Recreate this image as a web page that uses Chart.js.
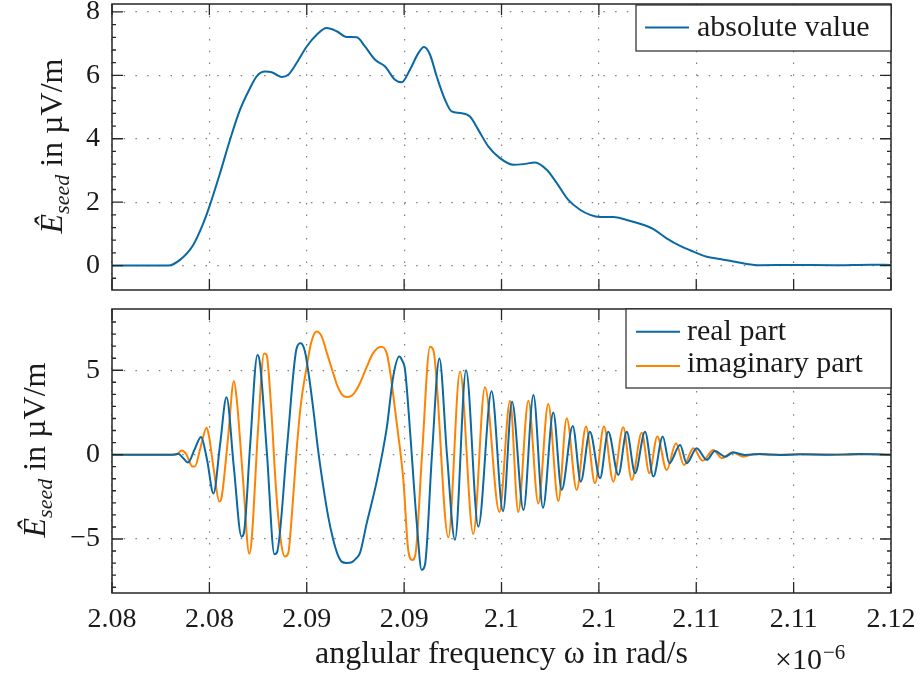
<!DOCTYPE html>
<html><head><meta charset="utf-8">
<script src="https://cdn.jsdelivr.net/npm/chart.js@4"></script>
<style>
html,body{margin:0;padding:0;background:#fff;}
#wrap{position:relative;width:920px;height:677px;background:#fff;}
canvas{position:absolute;left:0;}
#c1{top:0}
#c2{top:300px}
</style></head><body>
<div id="wrap"><canvas id="c1" width="920" height="300"></canvas><canvas id="c2" width="920" height="377"></canvas></div>
<script>
// ---------- data (x in units of 1e-6 rad/s) ----------
const xTickValues = [2.080, 2.085, 2.090, 2.095, 2.100, 2.105, 2.110, 2.115, 2.120];
const xTickLabels = ['2.08', '2.08', '2.09', '2.09', '2.1', '2.1', '2.11', '2.11', '2.12'];
const absTicks = [0, 2, 4, 6, 8];
const partTicks = [-5, 0, 5];

const absX = [2.08, 2.08289, 2.08349, 2.08417, 2.08469, 2.08500, 2.08555, 2.08606, 2.08657, 2.08709, 2.08743, 2.08786, 2.08820, 2.08871, 2.08905, 2.08948, 2.09000, 2.09051, 2.09102, 2.09154, 2.09205, 2.09257, 2.09299, 2.09351, 2.09402, 2.09453, 2.09488, 2.09530, 2.09573, 2.09602, 2.09633, 2.09667, 2.09710, 2.09744, 2.09787, 2.09838, 2.09881, 2.09932, 2.09992, 2.10061, 2.10112, 2.10172, 2.10232, 2.10284, 2.10343, 2.10403, 2.10455, 2.10506, 2.10574, 2.10643, 2.10711, 2.10780, 2.10848, 2.10917, 2.10985, 2.11054, 2.11122, 2.11190, 2.11259, 2.11328, 2.1150, 2.1170, 2.1190, 2.12];
const absY = [0, 0, 0.18, 0.65, 1.34, 1.86, 2.92, 3.97, 4.91, 5.6, 5.97, 6.12, 6.10, 5.95, 6.02, 6.39, 6.91, 7.28, 7.49, 7.39, 7.21, 7.20, 6.91, 6.49, 6.28, 5.86, 5.78, 6.18, 6.70, 6.89, 6.65, 5.97, 5.23, 4.86, 4.81, 4.70, 4.28, 3.76, 3.39, 3.18, 3.20, 3.25, 3.02, 2.60, 2.07, 1.76, 1.60, 1.53, 1.53, 1.44, 1.32, 1.15, 0.86, 0.62, 0.44, 0.28, 0.21, 0.13, 0.05, 0.01, 0.02, 0.01, 0.03, 0.02];

const realX = [2.08, 2.08313, 2.08340, 2.08365, 2.08390, 2.08424, 2.08457, 2.08488, 2.08521, 2.08555, 2.08588, 2.08626, 2.08665, 2.08678, 2.08709, 2.08747, 2.08760, 2.08796, 2.08834, 2.08847, 2.08899, 2.08948, 2.08969, 2.08991, 2.09012, 2.09034, 2.09058, 2.09085, 2.09109, 2.09136, 2.09158, 2.09179, 2.09205, 2.09231, 2.09253, 2.09273, 2.09308, 2.09359, 2.09411, 2.09444, 2.09475, 2.09489, 2.09505, 2.09530, 2.09565, 2.09590, 2.09607, 2.09643, 2.09681, 2.09720, 2.09761, 2.09818, 2.09881, 2.09949, 2.10008, 2.10054, 2.10113, 2.10164, 2.10213, 2.10266, 2.10309, 2.10366, 2.10407, 2.10454, 2.10506, 2.10548, 2.10600, 2.10643, 2.10686, 2.10737, 2.10780, 2.10828, 2.10862, 2.10917, 2.10951, 2.11002, 2.11054, 2.11096, 2.11148, 2.11190, 2.11250, 2.11327, 2.11430, 2.11533, 2.11687, 2.11841, 2.12];
const realY = [0, 0, 0.05, -0.2, -0.47, 0.3, 1.05, -0.3, -2.3, 0.6, 3.4, -0.8, -4.86, -4.6, 0.5, 5.91, 5.4, 0, -5.9, -5.8, 0.5, 6.3, 6.6, 6.1, 4.6, 2.65, 0.3, -1.9, -3.6, -5.05, -5.9, -6.34, -6.42, -6.38, -6.15, -5.84, -4.06, -1.6, 1.6, 4.62, 5.81, 5.6, 5.0, 1.46, -4.06, -6.83, -6.53, 0, 5.7, 0, -5.05, 5.0, -4.27, 3.75, -3.35, 3.14, -3.28, 3.54, -3.15, 2.5, -2.09, 1.7, -1.6, 1.36, -1.4, 1.36, -1.2, 1.36, -1.1, 1.36, -1.3, 1.07, -0.51, 0.57, -0.51, 0.38, -0.31, 0.22, -0.12, 0.12, -0.02, 0.03, -0.02, 0.02, 0, 0.03, 0];

const imagX = [2.08, 2.08329, 2.08358, 2.08380, 2.08414, 2.08426, 2.08452, 2.08486, 2.08498, 2.08524, 2.08551, 2.08563, 2.08596, 2.08626, 2.08640, 2.08673, 2.08705, 2.08717, 2.08750, 2.08781, 2.08794, 2.08816, 2.08842, 2.08868, 2.08888, 2.08905, 2.08924, 2.08948, 2.08970, 2.09000, 2.09022, 2.09051, 2.09077, 2.09104, 2.09136, 2.09160, 2.09188, 2.09212, 2.09232, 2.09253, 2.09273, 2.09308, 2.09340, 2.09381, 2.09411, 2.09427, 2.09462, 2.09496, 2.09521, 2.09542, 2.09559, 2.09592, 2.09633, 2.09650, 2.09727, 2.09787, 2.09855, 2.09915, 2.09989, 2.10044, 2.10086, 2.10138, 2.10189, 2.10240, 2.10292, 2.10335, 2.10386, 2.10434, 2.10480, 2.10526, 2.10574, 2.10625, 2.10669, 2.10720, 2.10759, 2.10800, 2.10848, 2.10896, 2.10937, 2.10985, 2.11033, 2.11088, 2.11131, 2.11187, 2.11240, 2.11302, 2.11404, 2.11533, 2.11738, 2.11892, 2.12];
const imagY = [0, 0, 0.24, 0.05, -0.71, -0.7, 0.3, 1.6, 1.1, -1.0, -2.78, -2.52, 1.0, 4.37, 3.34, -1.5, -5.88, -5.05, 1.5, 6.0, 5.91, 3.0, -2.0, -5.2, -6.04, -5.84, -3.5, 0.28, 3.0, 5.21, 6.6, 7.29, 6.99, 6.0, 4.82, 4.0, 3.48, 3.42, 3.5, 3.8, 4.23, 5.2, 6.0, 6.4, 6.0, 5.0, 1.86, -1.5, -5.64, -6.24, -5.84, 0, 6.4, 6.2, -4.9, 4.92, -4.7, 4.0, -3.4, 3.2, -3.4, 3.2, -2.9, 3.0, -2.75, 2.16, -2.09, 1.66, -1.7, 1.66, -1.6, 1.62, -1.5, 1.3, -1.1, 1.07, -0.91, 0.67, -0.61, 0.38, -0.36, 0.28, -0.21, 0.14, -0.12, 0.03, -0.01, 0.02, 0, 0.02, 0];

const absMinor = [-0.4, 0.4, 0.8, 1.2, 1.6, 2.4, 2.8, 3.2, 3.6, 4.4, 4.8, 5.2, 5.6, 6.4, 6.8, 7.2, 7.6];
const partMinor = [-7.86, -7.14, -6.43, -5.71, -4.29, -3.57, -2.86, -2.14, -1.43, -0.71, 0.71, 1.43, 2.14, 2.86, 3.57, 4.29, 5.71, 6.43, 7.14, 7.86];

// ---------- style ----------
const SERIF = "'Liberation Serif', 'Times New Roman', serif";
const BLUE = '#0a68a3';
const ORANGE = '#ff8200';
const AXIS = '#262626';
const GRID = 'rgba(40,40,40,0.6)';

const pts = (xs, ys) => xs.map((x, i) => ({x, y: ys[i]}));
const fmt = v => String(v).replace('-', '\u2212');

const deco = {
  id: 'deco',
  afterDraw(chart, args, o) {
    const {ctx, chartArea: a, scales: {x, y}} = chart;
    ctx.save();
    ctx.strokeStyle = AXIS;
    ctx.lineWidth = 1.3;
    ctx.beginPath();
    const T = 11, t = 4;
    x.ticks.forEach(tk => {
      const px = x.getPixelForValue(tk.value);
      ctx.moveTo(px, a.bottom); ctx.lineTo(px, a.bottom - T);
      ctx.moveTo(px, a.top); ctx.lineTo(px, a.top + T);
    });
    y.ticks.forEach(tk => {
      const py = y.getPixelForValue(tk.value);
      ctx.moveTo(a.left, py); ctx.lineTo(a.left + T, py);
      ctx.moveTo(a.right, py); ctx.lineTo(a.right - T, py);
    });
    o.minor.forEach(v => {
      const py = y.getPixelForValue(v);
      if (py < a.top || py > a.bottom) return;
      ctx.moveTo(a.left, py); ctx.lineTo(a.left + t, py);
      ctx.moveTo(a.right, py); ctx.lineTo(a.right - t, py);
    });
    ctx.stroke();
    ctx.lineWidth = 1.5;
    ctx.strokeRect(a.left, a.top, a.right - a.left, a.bottom - a.top);

    // legend
    const L = o.legend;
    ctx.fillStyle = '#fff';
    ctx.fillRect(L.x0, L.y0, L.x1 - L.x0, L.y1 - L.y0);
    ctx.lineWidth = 1.2;
    ctx.strokeStyle = AXIS;
    ctx.strokeRect(L.x0, L.y0, L.x1 - L.x0, L.y1 - L.y0);
    chart.data.datasets.forEach((ds, i) => {
      const row = L.rows[i];
      ctx.strokeStyle = ds.borderColor;
      ctx.lineWidth = 2;
      ctx.beginPath();
      ctx.moveTo(L.s0, row.ly); ctx.lineTo(L.s1, row.ly);
      ctx.stroke();
      ctx.fillStyle = '#1a1a1a';
      ctx.font = '30px ' + SERIF;
      ctx.textAlign = 'left';
      ctx.textBaseline = 'alphabetic';
      ctx.fillText(ds.label, L.tx, row.ty);
    });

    // y axis title: E-hat_seed in µV/m
    ctx.fillStyle = '#1a1a1a';
    ctx.translate(o.ylab.x, o.ylab.y);
    ctx.rotate(-Math.PI / 2);
    const f1 = 'italic 32px ' + SERIF, f2 = 'italic 22px ' + SERIF, f3 = '32px ' + SERIF;
    const p1 = '\u00CA', p2 = 'seed', p3 = ' in \u00B5V/m';
    ctx.font = f1; const w1 = ctx.measureText(p1).width;
    ctx.font = f2; const w2 = ctx.measureText(p2).width;
    ctx.font = f3; const w3 = ctx.measureText(p3).width;
    let sx = -(w1 + w2 + w3) / 2;
    ctx.textAlign = 'left'; ctx.textBaseline = 'alphabetic';
    ctx.font = f1; ctx.fillText(p1, sx, 0); sx += w1;
    ctx.font = f2; ctx.fillText(p2, sx, 7); sx += w2;
    ctx.font = f3; ctx.fillText(p3, sx, 0);
    ctx.setTransform(1, 0, 0, 1, 0, 0);

    if (o.xlab) {
      ctx.fillStyle = '#1a1a1a';
      ctx.textAlign = 'center';
      ctx.font = '32px ' + SERIF;
      ctx.fillText('anglular frequency \u03C9 in rad/s', (a.left + a.right) / 2, o.xlab.y);
      ctx.textAlign = 'left';
      ctx.font = '30px ' + SERIF;
      ctx.fillText('\u00D710', o.xlab.ex, o.xlab.ey);
      const we = ctx.measureText('\u00D710').width;
      ctx.font = '21px ' + SERIF;
      ctx.fillText('\u22126', o.xlab.ex + we + 1, o.xlab.ey - 10);
    }
    ctx.restore();
  }
};

function xScale(showLabels, h) {
  return {
    type: 'linear', min: 2.08, max: 2.12,
    afterBuildTicks: s => { s.ticks = xTickValues.map(v => ({value: v})); },
    ticks: {display: showLabels, padding: 10, color: '#1a1a1a', font: {family: SERIF, size: 28},
      maxRotation: 0, autoSkip: false, callback: (v, i) => xTickLabels[i]},
    grid: {drawTicks: false, color: GRID, lineWidth: 1.2},
    border: {display: false, dash: [1.5, 10.2]},
    afterFit: s => { s.height = h; s.paddingLeft = 0; s.paddingRight = 0; }
  };
}
function yScale(min, max, tickVals) {
  return {
    type: 'linear', min, max,
    afterBuildTicks: s => { s.ticks = tickVals.map(v => ({value: v})); },
    ticks: {padding: 12, color: '#1a1a1a', font: {family: SERIF, size: 28}, callback: v => fmt(v)},
    grid: {drawTicks: false, color: GRID, lineWidth: 1.2},
    border: {display: false, dash: [1.5, 10.2]},
    afterFit: s => { s.width = 112; s.paddingTop = 0; s.paddingBottom = 0; }
  };
}

new Chart(document.getElementById('c1'), {
  type: 'line',
  data: {datasets: [{label: 'absolute value', data: pts(absX, absY), borderColor: BLUE, borderWidth: 2,
    pointRadius: 0, cubicInterpolationMode: 'monotone', fill: false}]},
  options: {
    responsive: false, animation: false, devicePixelRatio: 1,
    layout: {padding: {left: 0, right: 29, top: 4, bottom: 0}},
    plugins: {legend: {display: false}, tooltip: {enabled: false},
      deco: {minor: absMinor,
        legend: {x0: 636, x1: 891, y0: 5, y1: 51, s0: 645, s1: 689, tx: 697, rows: [{ly: 27.5, ty: 36}]},
        ylab: {x: 62, y: 146}}},
    scales: {x: xScale(false, 10), y: yScale(-0.77, 8.25, absTicks)}
  },
  plugins: [deco]
});

new Chart(document.getElementById('c2'), {
  type: 'line',
  data: {datasets: [
    {label: 'real part', data: pts(realX, realY), borderColor: BLUE, borderWidth: 2, pointRadius: 0, cubicInterpolationMode: 'monotone', fill: false},
    {label: 'imaginary part', data: pts(imagX, imagY), borderColor: ORANGE, borderWidth: 2, pointRadius: 0, cubicInterpolationMode: 'monotone', fill: false}
  ]},
  options: {
    responsive: false, animation: false, devicePixelRatio: 1,
    layout: {padding: {left: 0, right: 29, top: 9, bottom: 0}},
    plugins: {legend: {display: false}, tooltip: {enabled: false},
      deco: {minor: partMinor,
        legend: {x0: 626, x1: 891, y0: 9, y1: 88, s0: 636, s1: 680, tx: 687, rows: [{ly: 31.7, ty: 40}, {ly: 66, ty: 71.7}]},
        ylab: {x: 45, y: 150},
        xlab: {y: 363, ex: 775, ey: 369}}},
    scales: {x: xScale(true, 84), y: yScale(-8.2, 8.63, partTicks)}
  },
  plugins: [deco]
});
</script>
</body></html>
